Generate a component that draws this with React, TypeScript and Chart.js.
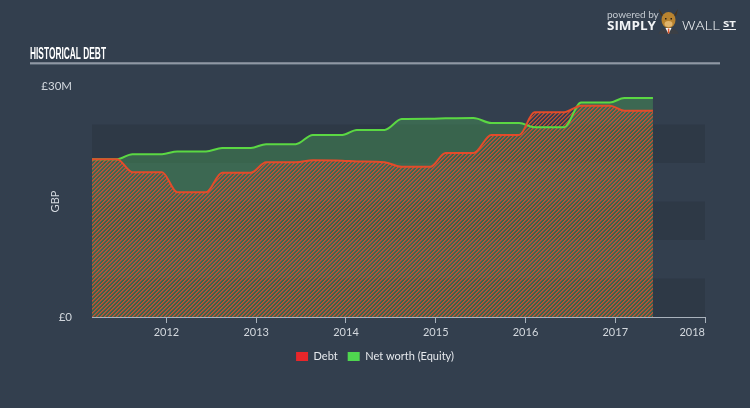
import React, { useEffect, useRef } from 'react';
import { Chart, registerables } from 'chart.js';

Chart.register(...registerables);

// ---- data (GBP millions) ----
const dates = [
  2011.17, 2011.45, 2011.62, 2011.95, 2012.12, 2012.44, 2012.62, 2012.94,
  2013.11, 2013.44, 2013.63, 2013.96, 2014.12, 2014.43, 2014.62, 2014.94,
  2015.11, 2015.42, 2015.62, 2015.93, 2016.1, 2016.43, 2016.62, 2016.94,
  2017.1, 2017.42,
];
const debt = [
  20.5, 20.5, 18.8, 18.8, 16.2, 16.2, 18.75, 18.75,
  20.1, 20.1, 20.35, 20.3, 20.2, 20.1, 19.5, 19.5,
  21.3, 21.3, 23.65, 23.65, 26.6, 26.6, 27.45, 27.45,
  26.8, 26.8,
];
const equity = [
  20.5, 20.5, 21.15, 21.15, 21.5, 21.5, 21.95, 21.95,
  22.45, 22.45, 23.65, 23.65, 24.3, 24.3, 25.7, 25.75,
  25.8, 25.85, 25.2, 25.2, 24.65, 24.65, 27.85, 27.85,
  28.45, 28.45,
];
const seriesNames = ['Debt', 'Net worth (Equity)'];
const xMin = 2011.17;
const xMax = 2018;
const yMax = 30;
const yTickText: Record<number, string> = { 0: '£0', 30: '£30M' };
const bands = [[0, 5], [10, 15], [20, 25]];

const BG = '#333f4e';
const BAND = '#2e3946';
const TEXT = '#d3d8de';
const RED_LINE = '#e24c2b';
const GREEN_LINE = '#5bd843';
const LEG_RED = '#e8262a';
const LEG_GREEN = '#4fd64f';

function makeHatch(ctx: CanvasRenderingContext2D) {
  const tile = document.createElement('canvas');
  tile.width = 4;
  tile.height = 4;
  const t = tile.getContext('2d')!;
  const img = t.createImageData(4, 4);
  for (let y = 0; y < 4; y++) {
    for (let x = 0; x < 4; x++) {
      const i = (y * 4 + x) * 4;
      const k = (x + y) % 4;
      if (k === 0 || k === 1) {
        img.data[i] = 212;
        img.data[i + 1] = 78;
        img.data[i + 2] = 50;
        img.data[i + 3] = k === 0 ? 230 : 150;
      } else {
        img.data[i + 3] = 0;
      }
    }
  }
  t.putImageData(img, 0, 0);
  return ctx.createPattern(tile, 'repeat')!;
}

function fitText(ctx: CanvasRenderingContext2D, text: string, x: number, y: number, w: number, font: string, color: string) {
  ctx.save();
  ctx.font = font;
  ctx.fillStyle = color;
  ctx.textBaseline = 'alphabetic';
  ctx.textAlign = 'left';
  const m = ctx.measureText(text).width;
  ctx.translate(x, y);
  ctx.scale(w / m, 1);
  ctx.fillText(text, 0, 0);
  ctx.restore();
}

const decor = {
  id: 'decor',
  beforeDraw(chart: any) {
    const { ctx, chartArea, scales } = chart;
    ctx.save();
    ctx.fillStyle = BG;
    ctx.fillRect(0, 0, chart.width, chart.height);
    const y = scales.y;
    ctx.fillStyle = BAND;
    for (const [a, b] of bands) {
      const top = y.getPixelForValue(b);
      const bot = y.getPixelForValue(a);
      ctx.fillRect(chartArea.left, top, chartArea.right - chartArea.left, bot - top);
    }
    ctx.restore();
  },
  afterDraw(chart: any) {
    const { ctx } = chart;
    // title
    fitText(ctx, 'HISTORICAL DEBT', 30, 58.5, 76, "bold 16.5px 'Liberation Sans Narrow', 'Liberation Sans', sans-serif", '#ffffff');
    ctx.save();
    ctx.fillStyle = '#c3cad3';
    ctx.fillRect(30, 62.5, 690, 1.2);
    ctx.fillStyle = '#7d8996';
    ctx.fillRect(30, 63.7, 690, 0.8);
    ctx.restore();
    // logo
    ctx.save();
    ctx.fillStyle = '#c4cad1';
    ctx.font = '10px Lato';
    ctx.textBaseline = 'alphabetic';
    ctx.fillText('powered by', 607, 18);
    ctx.restore();
    fitText(ctx, 'SIMPLY', 607, 30, 49, "bold 12px 'Open Sans', sans-serif", '#f2f4f6');
    fitText(ctx, 'WALL', 682, 30, 38, "300 12px 'Open Sans', sans-serif", '#f2f4f6');
    fitText(ctx, 'ST', 723, 27, 13, "bold 8px 'Open Sans', sans-serif", '#f2f4f6');
    ctx.save();
    ctx.fillStyle = '#f2f4f6';
    ctx.fillRect(723, 29, 13, 1);
    // bull
    ctx.fillStyle = '#3b3f45';
    ctx.beginPath();
    ctx.ellipse(668.5, 34, 10, 6, 0, Math.PI, 2 * Math.PI);
    ctx.fill();
    ctx.fillStyle = '#ffffff';
    ctx.beginPath();
    ctx.moveTo(665.5, 28); ctx.lineTo(671.5, 28); ctx.lineTo(668.5, 34); ctx.closePath();
    ctx.fill();
    ctx.fillStyle = '#e2572b';
    ctx.fillRect(667.8, 28.5, 1.6, 5);
    ctx.fillStyle = '#4a3218';
    ctx.beginPath();
    ctx.moveTo(659, 9); ctx.lineTo(663, 15); ctx.lineTo(661, 16); ctx.closePath(); ctx.fill();
    ctx.beginPath();
    ctx.moveTo(678, 9); ctx.lineTo(674, 15); ctx.lineTo(676, 16); ctx.closePath(); ctx.fill();
    ctx.fillStyle = '#b9832f';
    ctx.beginPath();
    ctx.ellipse(668.5, 20, 7, 8, 0, 0, 2 * Math.PI);
    ctx.fill();
    ctx.fillStyle = '#e0b46c';
    ctx.beginPath();
    ctx.ellipse(668.5, 24, 4, 3, 0, 0, 2 * Math.PI);
    ctx.fill();
    ctx.fillStyle = '#2a2016';
    ctx.fillRect(665, 18, 1.5, 1.5);
    ctx.fillRect(670.5, 18, 1.5, 1.5);
    ctx.restore();
  },
};

export default function App() {
  const ref = useRef<HTMLCanvasElement | null>(null);
  useEffect(() => {
    document.body.style.margin = '0';
    document.body.style.background = BG;
    const canvas = ref.current!;
    const ctx = canvas.getContext('2d')!;
    const hatch = makeHatch(ctx);
    const chart = new Chart(ctx, {
      type: 'line',
      data: {
        datasets: [
          {
            label: seriesNames[0],
            data: dates.map((d, i) => ({ x: d, y: debt[i] })),
            borderColor: RED_LINE,
            borderWidth: 2,
            backgroundColor: hatch,
            fill: 'origin',
            pointRadius: 0,
            cubicInterpolationMode: 'monotone',
          },
          {
            label: seriesNames[1],
            data: dates.map((d, i) => ({ x: d, y: equity[i] })),
            borderColor: GREEN_LINE,
            borderWidth: 2,
            backgroundColor: 'rgba(78,178,92,0.36)',
            fill: 'origin',
            pointRadius: 0,
            cubicInterpolationMode: 'monotone',
          },
        ],
      },
      options: {
        animation: false,
        responsive: false,
        devicePixelRatio: 1,
        layout: { padding: { left: 0, right: 0, top: 86, bottom: 36 } },
        plugins: {
          filler: { drawTime: 'beforeDatasetsDraw' },
          tooltip: { enabled: false },
          legend: {
            position: 'bottom',
            labels: {
              boxWidth: 12,
              boxHeight: 9,
              padding: 10,
              color: '#e6e9ed',
              font: { family: 'Lato', size: 11 },
              generateLabels: () => [
                { text: seriesNames[0], fillStyle: LEG_RED, strokeStyle: LEG_RED, lineWidth: 0, hidden: false, datasetIndex: 0, fontColor: '#e6e9ed' },
                { text: seriesNames[1], fillStyle: LEG_GREEN, strokeStyle: LEG_GREEN, lineWidth: 0, hidden: false, datasetIndex: 1, fontColor: '#e6e9ed' },
              ],
            },
          },
        },
        scales: {
          x: {
            type: 'linear',
            min: xMin,
            max: xMax,
            afterFit: (s: any) => { s.height = 24; },
            ticks: {
              stepSize: 1,
              autoSkip: false,
              maxRotation: 0,
              align: 'inner',
              color: TEXT,
              font: { family: 'Lato', size: 11 },
              padding: 3,
              callback: (v: any) => {
                const n = Number(v);
                return Math.abs(n - Math.round(n)) < 1e-6 ? String(Math.round(n)) : '';
              },
            },
            grid: {
              drawOnChartArea: false,
              drawTicks: true,
              tickLength: 6,
              tickColor: (c: any) => (c.index === 0 ? 'rgba(0,0,0,0)' : '#a9b2bc'),
              color: '#a9b2bc',
            },
            border: { display: true, color: '#a9b2bc', width: 1 },
          },
          y: {
            type: 'linear',
            position: 'left',
            min: 0,
            max: yMax,
            afterFit: (s: any) => { s.width = 92; },
            ticks: {
              stepSize: 5,
              padding: 12,
              color: TEXT,
              font: { family: 'Lato', size: 11.5 },
              callback: (v: any) => yTickText[Number(v)] ?? '',
            },
            grid: { display: false },
            border: { display: false },
            title: {
              display: true,
              text: 'GBP',
              color: TEXT,
              font: { family: 'Lato', size: 11 },
              padding: { top: 49, bottom: 0 },
            },
          },
          y2: {
            type: 'linear',
            position: 'right',
            afterFit: (s: any) => { s.width = 45; },
            ticks: { display: false },
            grid: { display: false },
            border: { display: false },
          },
        },
      },
      plugins: [decor],
    } as any);
    return () => chart.destroy();
  }, []);
  return <canvas ref={ref} width={750} height={408} style={{ display: 'block', width: 750, height: 408 }} />;
}
